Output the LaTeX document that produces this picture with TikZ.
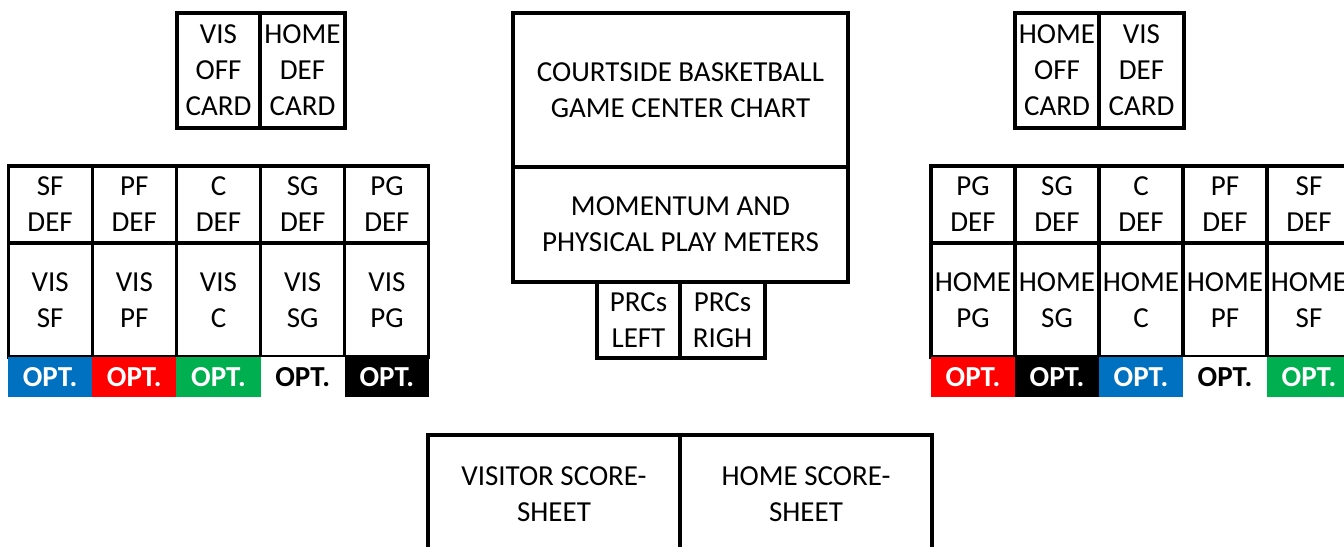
\documentclass[tikz,border=0pt]{standalone}
\usepackage{fontspec}
\setmainfont{Carlito}
\usepackage{tikz}
\usetikzlibrary{positioning}
\definecolor{optblue}{HTML}{0070C0}
\definecolor{optred}{HTML}{FF0000}
\definecolor{optgreen}{HTML}{00B050}
\tikzset{
  cell/.style={rectangle, draw=black, line width=1.8pt, align=center, inner sep=0pt,
               font=\fontsize{16.5}{20.4}\selectfont, minimum width=#1*0.02cm},
  cell/.default=84,
  defcell/.style={cell, minimum height=1.54cm},
  playcell/.style={cell, minimum height=2.28cm},
  optcell/.style={rectangle, fill=#1, text=white, inner sep=0pt,
                  font=\fontsize{16.5}{20.4}\selectfont\bfseries,
                  minimum width=1.684cm, minimum height=0.8cm},
  optwhite/.style={optcell=white, text=black},
}

\begin{document}
\begin{tikzpicture}[x=0.02cm, y=-0.02cm]
    \useasboundingbox (0,0) rectangle (1344,547);
    % Cartes du haut
    \node[cell=83, minimum height=2.3cm] (visoff) at (218.5,70.5) {VIS\\OFF\\CARD};
    \node[cell=85, minimum height=2.3cm] (homedef) at (302.5,70.5) {HOME\\DEF\\CARD};
    \node[cell=84, minimum height=2.3cm] (homeoff) at (1057,70.5) {HOME\\OFF\\CARD};
    \node[cell=85, minimum height=2.3cm] (visdef) at (1141.5,70.5) {VIS\\DEF\\CARD};
    % Tableau central
    \node[cell=335, minimum height=3.08cm] (chart) at (680.5,90)
      {COURTSIDE BASKETBALL\\GAME CENTER CHART};
    \node[cell=335, minimum height=2.3cm] (meters) at (680.5,224.5)
      {MOMENTUM AND\\PHYSICAL PLAY METERS};
    \node[cell=83, minimum height=1.52cm] (prcL) at (638.5,320) {PRCs\\LEFT};
    \node[cell=85, minimum height=1.52cm] (prcR) at (722.5,320) {PRCs\\RIGH};
    % Visiteurs (gauche)
    \node[defcell] (vdSF) at (50.1,204.5) {SF\\DEF};
    \node[defcell] (vdPF) at (134.3,204.5) {PF\\DEF};
    \node[defcell] (vdC) at (218.5,204.5) {C\\DEF};
    \node[defcell] (vdSG) at (302.7,204.5) {SG\\DEF};
    \node[defcell] (vdPG) at (386.9,204.5) {PG\\DEF};
    \node[playcell] (vSF) at (50.1,300) {VIS\\SF};
    \node[playcell] (vPF) at (134.3,300) {VIS\\PF};
    \node[playcell] (vC) at (218.5,300) {VIS\\C};
    \node[playcell] (vSG) at (302.7,300) {VIS\\SG};
    \node[playcell] (vPG) at (386.9,300) {VIS\\PG};
    \node[optcell=optblue] (voSF) at (50.1,377) {OPT.};
    \node[optcell=optred] (voPF) at (134.3,377) {OPT.};
    \node[optcell=optgreen] (voC) at (218.5,377) {OPT.};
    \node[optwhite] (voSG) at (302.7,377) {OPT.};
    \node[optcell=black] (voPG) at (386.9,377) {OPT.};
    % Locaux (droite)
    \node[defcell] (hdPG) at (973,204.5) {PG\\DEF};
    \node[defcell] (hdSG) at (1057,204.5) {SG\\DEF};
    \node[defcell] (hdC) at (1141,204.5) {C\\DEF};
    \node[defcell] (hdPF) at (1225,204.5) {PF\\DEF};
    \node[defcell] (hdSF) at (1309,204.5) {SF\\DEF};
    \node[playcell] (hPG) at (973,300) {HOME\\PG};
    \node[playcell] (hSG) at (1057,300) {HOME\\SG};
    \node[playcell] (hC) at (1141,300) {HOME\\C};
    \node[playcell] (hPF) at (1225,300) {HOME\\PF};
    \node[playcell] (hSF) at (1309,300) {HOME\\SF};
    \node[optcell=optred] (hoPG) at (973,377) {OPT.};
    \node[optcell=black] (hoSG) at (1057,377) {OPT.};
    \node[optcell=optblue] (hoC) at (1141,377) {OPT.};
    \node[optwhite] (hoPF) at (1225,377) {OPT.};
    \node[optcell=optgreen] (hoSF) at (1309,377) {OPT.};
    % Feuilles de match
    \node[cell=252, minimum height=2.36cm] (visscore) at (554,494) {VISITOR SCORE-\\SHEET};
    \node[cell=252, minimum height=2.36cm] (homescore) at (806,494) {HOME SCORE-\\SHEET};
  \end{tikzpicture}
\end{document}
